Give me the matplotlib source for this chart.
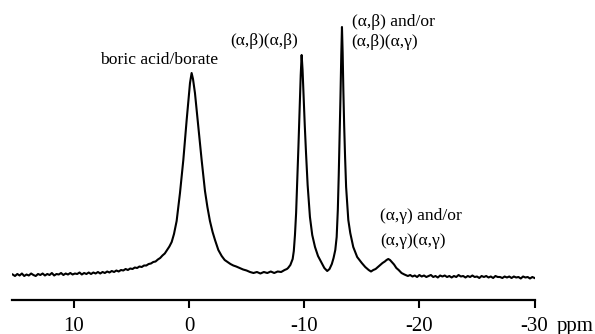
import matplotlib
matplotlib.use("Agg")
import matplotlib.pyplot as plt

plt.rcParams['font.family'] = ['Liberation Serif', 'DejaVu Serif']

# Chemical shift (ppm) and intensity (arbitrary units)
ppm = [15.3, 15.1, 14.9, 14.7, 14.5, 14.3, 14.1, 13.9, 13.7, 13.5, 13.3, 13.1, 12.9, 12.7,
       12.5, 12.3, 12.1, 11.9, 11.7, 11.5, 11.3, 11.1, 10.9, 10.7, 10.5, 10.3, 10.1, 9.9,
       9.7, 9.5, 9.3, 9.1, 8.9, 8.7, 8.5, 8.3, 8.1, 7.9, 7.7, 7.5, 7.3, 7.1, 6.9, 6.7,
       6.5, 6.3, 6.1, 5.9, 5.7, 5.5, 5.3, 5.1, 4.9, 4.7, 4.5, 4.3, 4.1, 3.9, 3.7, 3.5,
       3.3, 3.1, 2.9, 2.7, 2.5, 2.3, 2.1, 1.9, 1.7, 1.5, 1.3, 1.07, 0.78, 0.49, 0.20,
       -0.09, -0.23, -0.35, -0.52, -0.81, -1.10, -1.39, -1.6, -1.82, -2.05, -2.26, -2.55,
       -2.84, -3.1, -3.35, -3.6, -3.85, -4.1, -4.4, -4.7, -5.0, -5.3, -5.6, -5.9, -6.2,
       -6.5, -6.8, -7.1, -7.4, -7.7, -8.0, -8.3, -8.5, -8.6, -8.8, -9.0, -9.1, -9.2,
       -9.3, -9.4, -9.5, -9.6, -9.7, -9.78, -9.86, -9.95, -10.05, -10.16, -10.3, -10.5,
       -10.7, -10.94, -11.2, -11.52, -11.75, -12.0, -12.2, -12.4, -12.55, -12.7, -12.82,
       -12.92, -13.0, -13.08, -13.15, -13.22, -13.28, -13.34, -13.40, -13.47, -13.55,
       -13.64, -13.83, -14.0, -14.26, -14.6, -15.0, -15.3, -15.6, -15.8, -16.0, -16.2,
       -16.4, -16.6, -16.8, -17.0, -17.15, -17.3, -17.45, -17.6, -17.8, -18.0, -18.2,
       -18.45, -18.7, -19.0, -19.2, -19.4, -19.6, -19.8, -20.0, -20.2, -20.4, -20.6,
       -20.8, -21.0, -21.2, -21.4, -21.6, -21.8, -22.0, -22.2, -22.4, -22.6, -22.8,
       -23.0, -23.2, -23.4, -23.6, -23.8, -24.0, -24.2, -24.4, -24.6, -24.8, -25.0,
       -25.2, -25.4, -25.6, -25.8, -26.0, -26.2, -26.4, -26.6, -26.8, -27.0, -27.2,
       -27.4, -27.6, -27.8, -28.0, -28.2, -28.4, -28.6, -28.8, -29.0, -29.2, -29.4,
       -29.6, -29.8, -30.0]
intensity = [0.5, -1, 1, -0.5, 1.5, -1, 0.5, -0.5, 1.5, 0, -1, 1, 0, 1.5,
             -0.5, 1, 0, 2, -0.5, 1, 0.5, 2, 0, 1.5, 0.5, 2, 0.5, 1.5,
             1, 2.5, 0.5, 2, 1, 2.5, 1, 2.5, 1.5, 3, 1.5, 3, 2, 3.5, 2.5, 4,
             3, 4.5, 3.5, 5, 4.5, 6, 5, 6.5, 6, 7.5, 7, 8.5, 8, 9.5, 9.5, 11,
             11.5, 13, 13.5, 15.5, 17, 19.5, 21.5, 25, 28.5, 33, 41, 54, 82, 115, 155,
             192, 202, 196, 182, 148, 115, 84, 68, 54, 43, 35, 25,
             19, 15, 13, 11, 9.5, 8.5, 7, 5.5, 4.5, 3, 2, 3, 1.5,
             3, 2, 3.5, 2, 3.5, 3, 5, 6, 7, 10, 16, 24, 40,
             62, 95, 128, 165, 200, 220, 205, 178, 150, 122, 90, 58,
             40, 28, 19, 12, 7, 4, 6, 11, 17, 25, 38,
             65, 100, 140, 178, 220, 248, 222, 185, 150, 118,
             88, 55, 42, 28, 18, 12, 8, 5, 3.5, 5, 6,
             8, 10, 12, 13.5, 15, 16, 15, 13, 10.5, 7, 5,
             2, 0.5, -1, 0, -1.5, -0.5, -2, 0, -1.5, -0.5, -2,
             -1, 0, -2, -1, -2.5, -0.5, -1.5, -0.5, -2, -1, -2.5,
             -1, -2, 0, -1.5, -1, -2.5, -1, -2, -0.5, -2, -1.5,
             -3, -1, -2, -1, -2.5, -1.5, -3, -1, -2, -2, -3,
             -1.5, -2.5, -1.5, -3, -1.5, -2.5, -2, -3.5, -1.5, -2.5, -2,
             -3.5, -2, -3]

tick_values = [10, 0, -10, -20, -30]
tick_labels = ['10', '0', '-10', '-20', '-30']

labels = ['boric acid/borate', '(α,β)(α,β)', '(α,β) and/or', '(α,β)(α,γ)',
          '(α,γ) and/or', '(α,γ)(α,γ)']
label_ppm = [7.73, -3.56, -14.12, -14.12, -16.58, -16.58]
label_int = [211.5, 230, 249.3, 229.3, 55, 30]

fig = plt.figure(figsize=(5.95, 3.34), dpi=100)
ax = fig.add_axes([12 / 595, 34 / 334, (534.6 - 12) / 595, 280 / 334])
ax.plot(ppm, intensity, color='black', linewidth=1.5)
ax.set_xlim(15.36, -30.0)
ax.set_ylim(-25, 255)

for s in ['top', 'left', 'right']:
    ax.spines[s].set_visible(False)
ax.spines['bottom'].set_linewidth(1.6)
ax.set_yticks([])
ax.set_xticks(tick_values)
ax.set_xticklabels(tick_labels)
ax.tick_params(axis='x', direction='out', length=5.8, width=1.5, pad=6.5,
               labelsize=15)

for t, x, y in zip(labels, label_ppm, label_int):
    ax.text(x, y, t, fontsize=12.6, ha='left', va='baseline', clip_on=False)

fig.text(557 / 595, 2.5 / 334, 'ppm', fontsize=15, ha='left', va='baseline')

fig.savefig('out.png', dpi=100)
